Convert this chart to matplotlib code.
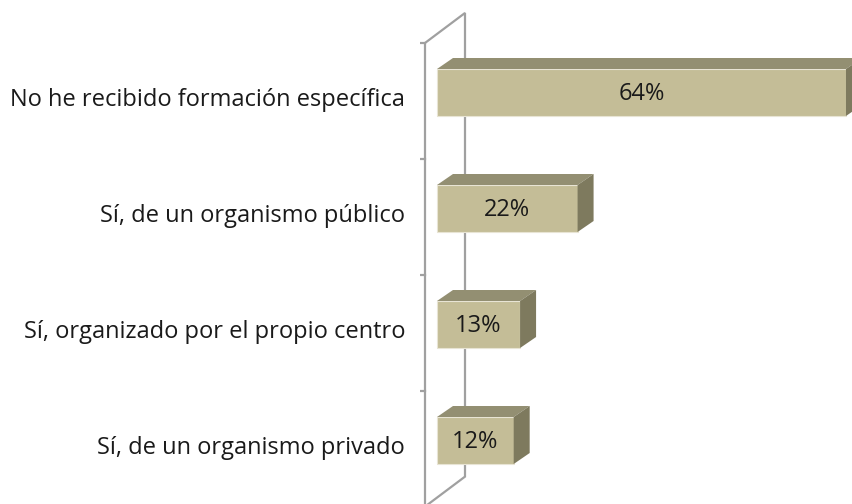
import matplotlib
matplotlib.use("Agg")
import matplotlib.pyplot as plt
from matplotlib.patches import Polygon

categories = ["No he recibido formación específica",
              "Sí, de un organismo público",
              "Sí, organizado por el propio centro",
              "Sí, de un organismo privado"]
values = [64, 22, 13, 12]
labels = ["64%", "22%", "13%", "12%"]

front = "#c4bd97"
top = "#938f72"
side = "#7e7a5e"
wall = "#a0a0a0"

plt.rcParams["font.family"] = ["Open Sans", "DejaVu Sans"]

fig = plt.figure(figsize=(8.52, 5.04), dpi=100)
ax = fig.add_axes([420 / 852, 0, 432 / 852, 1])
px_x = 6.39   # pixels per percent
px_y = 116.0  # pixels per category
ax.set_xlim(-17 / px_x, 415 / px_x)
ax.set_ylim((504 - 92.5) / px_y, -92.5 / px_y)
ax.axis("off")

# bar depth (data units)
ddx, ddy = 16 / px_x, -11 / px_y
h = 47 / px_y

# wall lines
wx0 = -12 / px_x
wdx, wdy = 40 / px_x, -30 / px_y
ytop = -0.427
ybot = 3.57
ax.plot([wx0, wx0, wx0 + wdx, wx0 + wdx, wx0],
        [ybot + 0.3, ytop, ytop + wdy, ybot + wdy, ybot],
        color=wall, lw=1.6, solid_joinstyle="miter", clip_on=True)
for k in range(5):
    yt = ytop + k
    ax.plot([wx0 - 7 / px_x, wx0], [yt, yt], color=wall, lw=1.6)

for i, v in enumerate(values):
    y0, y1 = i - h / 2, i + h / 2
    ax.barh(i, v, height=h, color=front, edgecolor="#e8e4d4", lw=0.8, zorder=3)
    ax.add_patch(Polygon([(0, y0), (ddx, y0 + ddy), (v + ddx, y0 + ddy), (v, y0)],
                         closed=True, facecolor=top, edgecolor="none", zorder=3))
    ax.add_patch(Polygon([(v, y0), (v + ddx, y0 + ddy), (v + ddx, y1 + ddy), (v, y1)],
                         closed=True, facecolor=side, edgecolor="none", zorder=3))
    ax.text(v / 2, i + 0.015, labels[i], ha="center", va="center",
            fontsize=17, color="#1a1a1a", zorder=4)
    fig.text(405 / 852, 1 - (92.5 + px_y * i + 8) / 504, categories[i],
             ha="right", va="center", fontsize=17, color="#1a1a1a")

fig.savefig("out.png", dpi=100)
